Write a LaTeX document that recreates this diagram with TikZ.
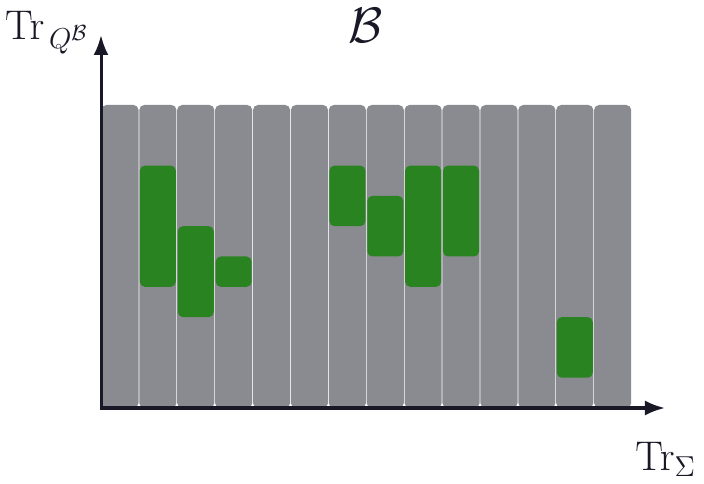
\documentclass[tikz,border=0pt]{standalone}
\usetikzlibrary{
    arrows.meta % for the axis tips
}
\definecolor{slotgray}{RGB}{138,139,144}
\definecolor{slotgreen}{RGB}{42,131,33}
\definecolor{axisink}{RGB}{24,24,38}

\begin{document}
\begin{tikzpicture}[
    x=18.95pt,y=15.15pt,>={Latex[length=10pt,width=7.5pt]},
    slot/.style       = {fill=slotgray,rounded corners=2.5pt},
    active/.style     = {fill=slotgreen,rounded corners=2.5pt},
    axis/.style       = {draw=axisink,line width=1.5pt},
    every node/.style = {text=axisink,inner sep=0pt,font=\fontsize{22}{26}\selectfont}
]
\useasboundingbox (-2.665,-2.508) rectangle (15.91,13.465);

% Background columns, one per position

    \foreach \i in {0,...,13}
        \fill[slot] (\i+0.01,0) rectangle (\i+0.99,10);

% Green blocks (column/bottom/top)

    \foreach \c/\b/\t in {1/4/8,2/3/6,3/4/5,6/6/8,7/5/7,8/4/8,9/5/8,12/1/3}
        \fill[active] (\c+0.025,\b) rectangle (\c+0.975,\t);

% Axes and their labels

    \coordinate (origin) at (0,0);
    \coordinate (x end)  at (14.88,0);
    \coordinate (y end)  at (0,12.31);
    \draw[axis,<->] (y end) -- (origin) -- (x end);

    \node[anchor=base east] (y label) at (-0.32,12.15) {$\mathrm{Tr}_{\,Q^{\mathcal{B}}}$};
    \node[anchor=base west] (x label) at (14.09,-2.05) {$\mathrm{Tr}_{\Sigma}$};
    \node[anchor=base,font=\fontsize{27}{32}\selectfont] (title) at (6.97,12.05) {$\mathcal{B}$};

\end{tikzpicture}
\end{document}
